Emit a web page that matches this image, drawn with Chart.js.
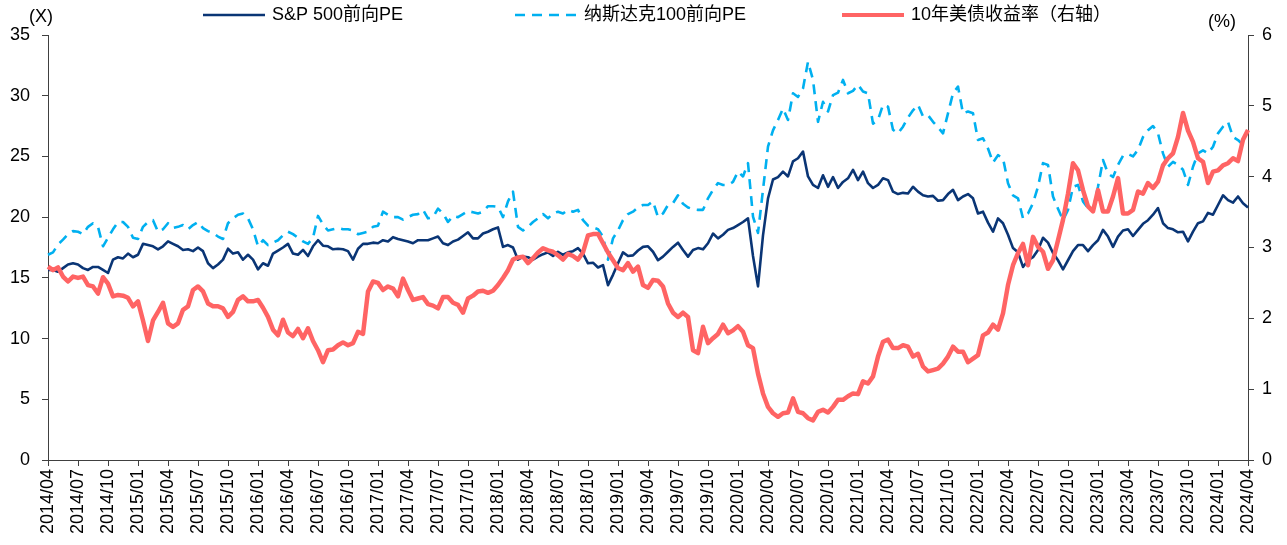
<!DOCTYPE html>
<html>
<head>
<meta charset="utf-8">
<script src="https://cdn.jsdelivr.net/npm/chart.js@4.4.1/dist/chart.umd.min.js"></script>
<style>
  html,body{margin:0;padding:0;background:#fff}
  #wrap{width:1287px;height:545px;position:relative}
</style>
</head>
<body>
<div id="wrap"><canvas id="c"></canvas></div>
<script>
// quarterly tick labels on the x axis
const xTicks = ['2014/04','2014/07','2014/10','2015/01','2015/04','2015/07','2015/10','2016/01','2016/04','2016/07','2016/10',
  '2017/01','2017/04','2017/07','2017/10','2018/01','2018/04','2018/07','2018/10','2019/01','2019/04','2019/07','2019/10',
  '2020/01','2020/04','2020/07','2020/10','2021/01','2021/04','2021/07','2021/10','2022/01','2022/04','2022/07','2022/10',
  '2023/01','2023/04','2023/07','2023/10','2024/01','2024/04'];

// S&P 500 forward PE (x), half-monthly
const sp500 = [15.65,15.65,15.5,15.8,16.1,16.2,16.1,15.8,15.65,15.9,15.9,15.65,15.4,16.5,16.7,16.6,17.0,16.7,16.9,17.8,
  17.7,17.6,17.35,17.6,18.0,17.8,17.6,17.3,17.35,17.2,17.5,17.2,16.2,15.8,16.1,16.5,17.4,17.0,17.1,16.5,16.9,
  16.5,15.7,16.2,16.0,17.0,17.25,17.5,17.8,17.0,16.9,17.3,16.8,17.6,18.1,17.65,17.6,17.35,17.4,17.35,17.2,
  16.5,17.4,17.8,17.8,17.9,17.85,18.1,18.0,18.35,18.2,18.1,18.0,17.85,18.1,18.1,18.1,18.25,18.4,17.85,17.7,
  18.0,18.15,18.45,18.75,18.25,18.25,18.65,18.8,19.0,19.15,17.55,17.7,17.5,16.5,16.75,16.7,16.5,16.75,16.95,17.1,
  16.8,17.15,16.9,17.1,17.2,17.45,17.0,16.2,16.25,15.85,16.05,14.4,15.25,16.2,17.1,16.8,16.85,17.25,17.55,17.6,
  17.15,16.45,16.75,17.15,17.55,17.9,17.3,16.75,17.3,17.45,17.35,17.85,18.65,18.25,18.55,18.95,19.1,19.35,19.6,19.9,
  16.8,14.3,18.5,21.55,23.1,23.3,23.75,23.35,24.6,24.85,25.4,23.35,22.65,22.4,23.45,22.5,23.3,22.4,22.9,23.2,
  23.9,23.05,23.75,22.8,22.4,22.65,23.2,23.05,22.1,21.9,22.0,21.95,22.5,22.1,21.8,21.7,21.75,21.35,21.4,21.9,
  22.25,21.4,21.7,21.9,21.55,20.3,20.45,19.55,18.8,19.9,19.5,18.55,17.45,17.1,15.9,16.45,16.7,17.3,18.3,17.9,
  17.05,16.45,15.7,16.45,17.2,17.7,17.7,17.2,17.7,18.1,18.95,18.4,17.55,18.4,18.9,19.0,18.45,18.95,19.45,19.75,
  20.2,20.75,19.5,19.1,19.0,18.75,18.8,18.0,18.8,19.5,19.65,20.35,20.2,21.0,21.8,21.4,21.2,21.7,21.15,20.8];

// Nasdaq 100 forward PE (x)
const ndx100 = [16.9,17.1,17.75,18.15,18.6,18.85,18.8,18.6,19.2,19.5,19.2,17.6,18.3,19.0,19.6,19.6,19.2,18.3,18.2,19.2,
  19.6,19.75,18.8,19.0,19.5,19.1,19.2,19.35,19.0,19.35,19.6,19.1,18.85,18.7,18.4,18.2,19.5,19.9,20.2,20.3,19.9,
  19.0,17.6,18.1,17.7,17.9,18.1,18.5,18.8,18.6,18.3,18.0,17.8,18.3,20.1,19.4,18.9,19.0,19.1,19.0,19.0,
  18.9,18.6,18.7,18.8,19.2,19.3,20.45,20.2,20.0,20.0,19.8,20.0,20.2,20.25,20.6,19.9,20.0,20.7,20.3,19.6,
  20.1,20.0,20.25,20.5,20.4,20.3,20.45,20.9,20.9,20.85,20.0,21.3,22.1,19.2,18.9,19.2,19.6,19.9,20.25,19.9,
  20.3,20.45,20.3,20.6,20.45,20.6,19.75,19.3,19.15,19.0,18.4,16.5,18.25,18.9,19.75,20.25,20.45,20.8,21.0,21.0,
  21.3,20.0,20.3,21.0,21.15,21.8,21.1,20.8,20.65,20.6,20.6,21.55,22.25,22.8,22.65,22.65,22.9,23.75,23.35,24.45,
  20.05,18.7,22.25,25.8,27.15,28.0,28.95,28.0,30.2,29.9,30.6,32.8,31.3,27.85,29.5,28.7,30.05,30.25,31.3,30.2,
  30.4,30.9,30.35,30.2,27.7,28.0,29.25,29.1,27.2,26.9,27.45,28.2,28.8,29.25,28.3,28.4,27.85,27.4,26.9,28.55,
  30.2,30.75,28.55,28.7,28.55,26.35,26.5,25.65,24.5,25.1,24.85,22.8,21.8,21.55,19.9,20.3,21.15,22.5,24.45,24.3,
  21.7,20.7,19.75,20.6,22.5,22.65,21.3,20.75,20.6,22.5,24.7,23.6,23.3,24.3,25.05,25.2,25.0,25.55,26.6,27.15,
  27.5,26.9,25.25,24.15,24.55,24.3,23.9,22.65,24.15,25.25,25.5,25.25,25.8,26.9,27.45,27.85,26.6,26.35,25.95,25.95];

// 10Y UST yield (%), right axis
const ust10y = [2.73,2.68,2.72,2.59,2.52,2.59,2.57,2.59,2.47,2.45,2.35,2.58,2.49,2.31,2.33,2.32,2.29,2.17,2.24,1.97,
  1.68,1.97,2.09,2.22,1.93,1.88,1.93,2.12,2.17,2.40,2.45,2.38,2.21,2.17,2.17,2.14,2.02,2.09,2.26,2.31,2.24,
  2.24,2.26,2.15,2.02,1.84,1.76,1.98,1.80,1.75,1.85,1.72,1.86,1.68,1.55,1.38,1.55,1.56,1.62,1.66,1.62,
  1.65,1.81,1.78,2.38,2.52,2.50,2.40,2.45,2.42,2.31,2.56,2.40,2.26,2.28,2.30,2.20,2.18,2.14,2.30,2.30,
  2.22,2.19,2.08,2.28,2.32,2.38,2.39,2.36,2.39,2.47,2.57,2.68,2.83,2.86,2.87,2.78,2.85,2.93,2.99,2.96,
  2.94,2.89,2.83,2.91,2.88,2.83,2.93,3.17,3.19,3.19,3.06,2.93,2.82,2.71,2.68,2.78,2.66,2.73,2.47,2.43,
  2.54,2.53,2.45,2.21,2.08,2.02,2.08,2.02,1.55,1.51,1.88,1.65,1.72,1.78,1.91,1.79,1.83,1.89,1.81,1.62,
  1.58,1.22,0.94,0.75,0.66,0.61,0.66,0.67,0.87,0.68,0.66,0.59,0.56,0.68,0.71,0.67,0.75,0.85,0.85,0.90,
  0.94,0.93,1.11,1.08,1.18,1.46,1.67,1.70,1.58,1.58,1.62,1.60,1.46,1.50,1.32,1.25,1.27,1.29,1.36,1.46,
  1.60,1.53,1.53,1.38,1.43,1.48,1.76,1.80,1.91,1.84,2.07,2.47,2.75,2.92,3.05,2.75,3.15,3.01,2.94,2.70,
  2.82,3.10,3.39,3.76,4.19,4.09,3.81,3.58,3.51,3.81,3.51,3.51,3.72,3.98,3.48,3.48,3.53,3.79,3.76,3.91,
  3.84,3.93,4.16,4.26,4.33,4.56,4.90,4.65,4.49,4.26,4.21,3.91,4.07,4.09,4.16,4.19,4.26,4.22,4.52,4.66];

// half-month categories, 2014/04 .. 2024/04
const dates = [];
for (let y = 2014, m = 4; y < 2024 || (y === 2024 && m <= 4); ) {
  const mm = String(m).padStart(2, '0');
  dates.push(`${y}/${mm}/01`);
  if (!(y === 2024 && m === 4)) dates.push(`${y}/${mm}/15`);
  m++; if (m > 12) { m = 1; y++; }
}

const FONT = '"Liberation Sans", Arial, "Noto Sans CJK SC", sans-serif';
const axisCol = '#404040';
const legendX = [203, 515, 842];   // left edge of each legend sample line

// legend + axis unit labels drawn on the canvas
const overlay = {
  id: 'overlay',
  afterDraw(chart) {
    const c = chart.ctx;
    c.save();
    c.fillStyle = '#000';
    c.font = '18px ' + FONT;
    c.textBaseline = 'middle';
    chart.data.datasets.forEach((ds, i) => {
      const x = legendX[i];
      c.beginPath();
      c.strokeStyle = ds.borderColor;
      c.lineWidth = Math.min(ds.borderWidth, 4);
      c.setLineDash(ds.borderDash || []);
      c.moveTo(x, 15); c.lineTo(x + 62, 15);
      c.stroke();
      c.setLineDash([]);
      c.textAlign = 'left';
      c.fillText(ds.label, x + 69, 15);
    });
    c.textAlign = 'center';
    c.fillText('(X)', 41, 17);
    c.fillText('(%)', 1222, 22);
    c.restore();
  }
};

new Chart(document.getElementById('c'), {
  type: 'line',
  data: {
    labels: dates,
    datasets: [
      { label: 'S&P 500前向PE', data: sp500, yAxisID: 'y', borderColor: '#0A3575', borderWidth: 2.6, order: 1 },
      { label: '纳斯达克100前向PE', data: ndx100, yAxisID: 'y', borderColor: '#00B0F0', borderWidth: 2.6, borderDash: [10, 7], order: 2 },
      { label: '10年美债收益率（右轴）', data: ust10y, yAxisID: 'y1', borderColor: '#FF6464', borderWidth: 4.5, order: 0 }
    ]
  },
  options: {
    responsive: true,
    maintainAspectRatio: false,
    animation: false,
    layout: { padding: { top: 35, left: 0, right: 0, bottom: 0 } },
    elements: { point: { radius: 0 }, line: { tension: 0, borderCapStyle: 'butt', borderJoinStyle: 'round' } },
    plugins: { legend: { display: false }, tooltip: { enabled: false } },
    scales: {
      x: {
        grid: { drawOnChartArea: false, tickLength: 6, color: axisCol },
        border: { color: axisCol, width: 1 },
        ticks: {
          autoSkip: false, minRotation: 90, maxRotation: 90, padding: 3, color: '#000',
          font: { family: FONT, size: 18 },
          callback: (v, i) => (i % 6 === 0 ? xTicks[i / 6] : null)
        },
        afterFit: s => { s.height = 85; }
      },
      y: {
        position: 'left', min: 0, max: 35,
        grid: { drawOnChartArea: false, tickLength: 6, color: axisCol },
        border: { color: axisCol, width: 1 },
        ticks: { stepSize: 5, padding: 12, color: '#000', font: { family: FONT, size: 18 } },
        afterFit: s => { s.width = 48; }
      },
      y1: {
        position: 'right', min: 0, max: 6,
        grid: { drawOnChartArea: false, tickLength: 6, color: axisCol },
        border: { color: axisCol, width: 1 },
        ticks: { stepSize: 1, padding: 8, color: '#000', font: { family: FONT, size: 18 } },
        afterFit: s => { s.width = 39; }
      }
    }
  },
  plugins: [overlay]
});
</script>
</body>
</html>
